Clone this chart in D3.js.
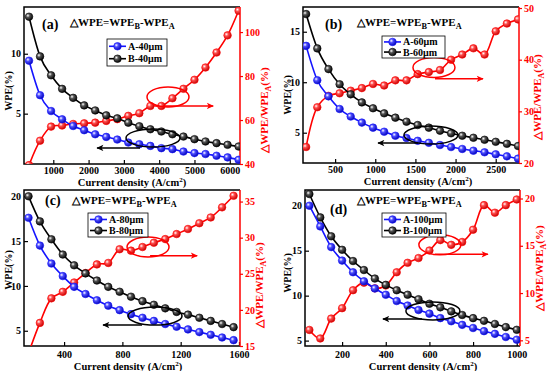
<!DOCTYPE html>
<html>
<head>
<meta charset="utf-8">
<script src="https://cdn.jsdelivr.net/npm/d3@7"></script>
<style>
  body { margin: 0; background: #fff; }
  text { font-family: 'Liberation Serif', 'Times New Roman', serif; font-weight: bold; }
</style>
</head>
<body>
<svg id="chart" width="550" height="371"></svg>
<script>
// current density (A/cm2) for each mesa size
const x40 = [312.5, 625, 937.5, 1250, 1562.5, 1875, 2187.5, 2500, 2812.5, 3125, 3437.5, 3750, 4062.5, 4375, 4687.5, 5000, 5312.5, 5625, 5937.5, 6250];
const x60 = [139, 278, 417, 556, 694, 833, 972, 1111, 1250, 1389, 1528, 1667, 1806, 1944, 2083, 2222, 2361, 2500, 2639, 2778];
const x80 = [156, 234, 313, 391, 469, 547, 625, 703, 781, 859, 938, 1016, 1094, 1172, 1250, 1328, 1406, 1484, 1563];
const x100 = [50, 100, 150, 200, 250, 300, 350, 400, 450, 500, 550, 600, 650, 700, 750, 800, 850, 900, 950, 1000];

// WPE (%) of structure A and B, and relative gain (%)
const wpeA40 = [9.42, 6.54, 5.22, 4.53, 3.97, 3.62, 3.28, 3.06, 2.84, 2.59, 2.45, 2.31, 2.12, 2.04, 1.84, 1.71, 1.63, 1.49, 1.35, 1.15];
const wpeB40 = [13.09, 9.78, 8.2, 7.07, 6.32, 5.69, 5.27, 4.86, 4.61, 4.25, 3.95, 3.7, 3.51, 3.28, 3.09, 2.87, 2.68, 2.54, 2.4, 2.26];
const gain40 = [39.5, 50.6, 57.0, 57.5, 58.2, 58.5, 58.8, 59.6, 60.4, 61.9, 63.1, 66.4, 66.4, 69.9, 74.2, 78.3, 83.9, 90.7, 98.5, 109.7];

const wpeA60 = [13.6, 10.2, 8.6, 7.35, 6.6, 6.0, 5.5, 5.1, 4.7, 4.47, 4.2, 4.0, 3.78, 3.58, 3.39, 3.22, 3.06, 2.86, 2.66, 2.43];
const wpeB60 = [16.75, 13.35, 11.3, 9.8, 8.8, 8.0, 7.42, 6.92, 6.49, 6.09, 5.76, 5.5, 5.2, 4.94, 4.7, 4.5, 4.3, 4.1, 3.9, 3.68];
const gain60 = [23.1, 30.8, 33.0, 33.5, 34.0, 34.5, 35.3, 35.0, 36.0, 36.0, 37.2, 37.6, 38.0, 40.0, 41.0, 42.2, 41.0, 45.5, 47.0, 47.8];

const wpeA80 = [17.6, 14.5, 12.5, 11.1, 9.9, 9.1, 8.4, 7.8, 7.3, 6.85, 6.45, 6.1, 5.75, 5.45, 5.15, 4.85, 4.55, 4.25, 3.95];
const wpeB80 = [20.0, 17.2, 15.2, 13.5, 12.3, 11.4, 10.6, 9.9, 9.35, 8.8, 8.3, 7.9, 7.5, 7.1, 6.8, 6.45, 6.1, 5.75, 5.4];
const gain80 = [14.0, 18.2, 21.6, 22.5, 23.8, 25.1, 26.3, 26.5, 28.4, 28.2, 28.7, 29.3, 29.8, 30.5, 31.2, 32.0, 32.8, 34.2, 35.8];

const wpeA100 = [20.0, 17.7, 15.4, 13.9, 12.6, 11.6, 10.8, 10.1, 9.4, 8.9, 8.4, 8.0, 7.5, 7.15, 6.75, 6.4, 6.05, 5.75, 5.4, 5.1];
const wpeB100 = [21.3, 18.7, 16.6, 15.1, 13.85, 12.85, 11.9, 11.2, 10.6, 10.1, 9.6, 9.1, 8.7, 8.25, 7.85, 7.5, 7.2, 6.85, 6.5, 6.2];
const gain100 = [6.1, 5.2, 7.3, 8.4, 10.3, 11.1, 10.5, 10.8, 12.2, 13.2, 13.7, 14.5, 15.6, 15.1, 15.4, 16.7, 19.3, 18.5, 19.3, 19.9];

// tick values
const xTicks40 = [1000, 2000, 3000, 4000, 5000, 6000];
const xTicks60 = [500, 1000, 1500, 2000, 2500];
const xTicks80 = [400, 800, 1200, 1600];
const xTicks100 = [200, 400, 600, 800, 1000];

const panels = [
  { tag: '(a)', size: '40μm', x: x40, a: wpeA40, b: wpeB40, g: gain40,
    box: [24, 240, 7, 164], xDom: [170, 6290], yDom: [0.8, 13.9], gDom: [40, 111.4],
    xTicks: xTicks40, yTicks: [5, 10], gTicks: [40, 60, 80, 100], xPad: 3,
    tagPos: [42, 29], titlePos: [70, 26], legend: [107, 39, 60, 27],
    redEll: [4250, 70.5], redArr: [4110, 5530, 66.4], blkEll: [3825, 2.97], blkArr: [3457, 2240, 2.14],
    yLab: [8, 91], gLab: [264, 110], xLab: [132, 186] },
  { tag: '(b)', size: '60μm', x: x60, a: wpeA60, b: wpeB60, g: gain60,
    box: [303, 519, 7, 163], xDom: [100, 2790], yDom: [2.0, 17.45], gDom: [20, 50.2],
    xTicks: xTicks60, yTicks: [5, 10, 15], gTicks: [20, 30, 40, 50], xPad: 3,
    tagPos: [325, 29], titlePos: [357, 26], legend: [382, 36, 63, 22],
    redEll: [1731, 38.5], redArr: [1744, 2342, 36.3], blkEll: [1694, 4.77], blkArr: [1532, 1034, 3.98],
    yLab: [287, 95], gLab: [537, 97], xLab: [418, 185] },
  { tag: '(c)', size: '80μm', x: x80, a: wpeA80, b: wpeB80, g: gain80,
    box: [24, 240, 190, 346], xDom: [125, 1607], yDom: [3.3, 20.7], gDom: [15, 36.6],
    xTicks: xTicks80, yTicks: [5, 10, 15, 20], gTicks: [15, 20, 25, 30, 35], xPad: 5,
    tagPos: [45, 205], titlePos: [72, 204], legend: [88, 213, 60, 24],
    redEll: [976, 28.7], redArr: [990, 1313, 27.5], blkEll: [1024, 6.64], blkArr: [935, 667, 5.64],
    yLab: [8, 270], gLab: [259, 285], xLab: [128, 370] },
  { tag: '(d)', size: '100μm', x: x100, a: wpeA100, b: wpeB100, g: gain100,
    box: [305, 520, 190, 346], xDom: [30, 1015], yDom: [4.4, 21.75], gDom: [4.4, 20.9],
    xTicks: xTicks100, yTicks: [5, 10, 15, 20], gTicks: [5, 10, 15, 20], xPad: 5,
    tagPos: [330, 214], titlePos: [357, 204], legend: [382, 213, 64, 24],
    redEll: [648, 15.1], redArr: [625, 868, 14.1], blkEll: [616, 8.3], blkArr: [566, 387, 7.4],
    yLab: [287, 273], gLab: [539, 268], xLab: [423, 370] }
];

const BLUE = '#1414ff', BLACK = '#000', RED = '#ff0000';

const svg = d3.select('#chart');
const defs = svg.append('defs');

function ballGradient(id, base, dark) {
  const g = defs.append('radialGradient').attr('id', id)
    .attr('cx', '35%').attr('cy', '35%').attr('r', '70%');
  g.append('stop').attr('offset', '0%').attr('stop-color', '#fff');
  g.append('stop').attr('offset', '35%').attr('stop-color', base);
  g.append('stop').attr('offset', '100%').attr('stop-color', dark);
}
ballGradient('ballBlue', '#4d4dff', '#0000b0');
ballGradient('ballBlack', '#555', '#000');
ballGradient('ballRed', '#ff4d4d', '#c00000');

function arrowHead(id, color) {
  defs.append('marker').attr('id', id).attr('viewBox', '0 0 10 10')
    .attr('refX', 9).attr('refY', 5).attr('markerWidth', 9).attr('markerHeight', 7)
    .attr('markerUnits', 'userSpaceOnUse').attr('orient', 'auto')
    .append('path').attr('d', 'M0,0.5 L10,5 L0,9.5 L2.5,5 Z').attr('fill', color);
}
arrowHead('headRed', RED);
arrowHead('headBlack', BLACK);

function wpeTitle(sel, x, y, size) {
  const t = sel.append('text').attr('x', x).attr('y', y).attr('font-size', size);
  t.append('tspan').text('△WPE=WPE');
  t.append('tspan').text('B').attr('font-size', size * 0.75).attr('dy', 3);
  t.append('tspan').text('-WPE').attr('dy', -3);
  t.append('tspan').text('A').attr('font-size', size * 0.75).attr('dy', 3);
}

panels.forEach((p, i) => {
  const [L, R, T, B] = p.box;
  const g = svg.append('g');
  const x = d3.scaleLinear().domain(p.xDom).range([L, R]);
  const y = d3.scaleLinear().domain(p.yDom).range([B, T]);
  const yg = d3.scaleLinear().domain(p.gDom).range([B, T]);

  const clipId = 'clip' + i;
  defs.append('clipPath').attr('id', clipId)
    .append('rect').attr('x', L).attr('y', T).attr('width', R - L).attr('height', B - T);

  // axes
  const xAxis = g.append('g').attr('transform', `translate(0,${B})`)
    .call(d3.axisBottom(x).tickValues(p.xTicks).tickSize(-4).tickPadding(p.xPad).tickFormat(d3.format('d')));
  const yAxis = g.append('g').attr('transform', `translate(${L},0)`)
    .call(d3.axisLeft(y).tickValues(p.yTicks).tickSize(-4).tickPadding(3).tickFormat(d3.format('d')));
  const gAxis = g.append('g').attr('transform', `translate(${R},0)`)
    .call(d3.axisRight(yg).tickValues(p.gTicks).tickSize(3).tickPadding(2).tickFormat(d3.format('d')));
  [xAxis, yAxis, gAxis].forEach(a => {
    a.select('.domain').remove();
    a.selectAll('text').attr('font-size', 10).attr('font-family', null).attr('font-weight', 'bold');
    a.selectAll('line').attr('stroke-width', 1.2);
  });
  xAxis.selectAll('text').attr('fill', '#000');
  yAxis.selectAll('text').attr('fill', '#000');
  gAxis.selectAll('text').attr('fill', RED);
  gAxis.selectAll('line').attr('stroke', RED);

  // frame
  g.append('path').attr('d', `M${R},${T} L${L},${T} L${L},${B} L${R},${B}`)
    .attr('fill', 'none').attr('stroke', '#000').attr('stroke-width', 1.5);
  g.append('line').attr('x1', R).attr('x2', R).attr('y1', T).attr('y2', B)
    .attr('stroke', RED).attr('stroke-width', 1.5);

  // series
  const plot = g.append('g').attr('clip-path', `url(#${clipId})`);
  const series = [
    { v: p.g, sc: yg, color: RED, ball: 'ballRed', curve: d3.curveCatmullRom.alpha(0.5) },
    { v: p.b, sc: y, color: BLACK, ball: 'ballBlack', curve: d3.curveMonotoneX },
    { v: p.a, sc: y, color: BLUE, ball: 'ballBlue', curve: d3.curveMonotoneX }
  ];
  series.forEach(s => {
    const pts = p.x.map((xv, k) => [xv, s.v[k]]);
    plot.append('path').datum(pts)
      .attr('fill', 'none').attr('stroke', s.color).attr('stroke-width', 1.6)
      .attr('d', d3.line().curve(s.curve).x(d => x(d[0])).y(d => s.sc(d[1])));
    plot.selectAll(null).data(pts).join('circle')
      .attr('cx', d => x(d[0])).attr('cy', d => s.sc(d[1])).attr('r', 3.8)
      .attr('fill', `url(#${s.ball})`).attr('stroke', s.color).attr('stroke-width', 0.6);
  });

  // annotations: ellipses with arrows pointing to the axis they refer to
  g.append('ellipse').attr('cx', x(p.redEll[0])).attr('cy', yg(p.redEll[1]))
    .attr('rx', 21).attr('ry', 10).attr('fill', 'none').attr('stroke', RED).attr('stroke-width', 1.5);
  g.append('line').attr('x1', x(p.redArr[0])).attr('x2', x(p.redArr[1]))
    .attr('y1', yg(p.redArr[2])).attr('y2', yg(p.redArr[2]))
    .attr('stroke', RED).attr('stroke-width', 1.5).attr('marker-end', 'url(#headRed)');
  g.append('ellipse').attr('cx', x(p.blkEll[0])).attr('cy', y(p.blkEll[1]))
    .attr('rx', 27).attr('ry', 9).attr('fill', 'none').attr('stroke', BLACK).attr('stroke-width', 1.5);
  g.append('line').attr('x1', x(p.blkArr[0])).attr('x2', x(p.blkArr[1]))
    .attr('y1', y(p.blkArr[2])).attr('y2', y(p.blkArr[2]))
    .attr('stroke', BLACK).attr('stroke-width', 1.5).attr('marker-end', 'url(#headBlack)');

  // panel tag and formula
  g.append('text').attr('x', p.tagPos[0]).attr('y', p.tagPos[1]).attr('font-size', 14).text(p.tag);
  wpeTitle(g, p.titlePos[0], p.titlePos[1], 11);

  // legend
  const [lx, ly, lw, lh] = p.legend;
  const lg = g.append('g');
  lg.append('rect').attr('x', lx).attr('y', ly).attr('width', lw).attr('height', lh)
    .attr('fill', '#fff').attr('stroke', '#000').attr('stroke-width', 0.8);
  [['A-' + p.size, BLUE, 'ballBlue'], ['B-' + p.size, BLACK, 'ballBlack']].forEach((e, k) => {
    const cy = ly + lh * (k === 0 ? 0.27 : 0.73);
    lg.append('line').attr('x1', lx + 2).attr('x2', lx + 19).attr('y1', cy).attr('y2', cy)
      .attr('stroke', e[1]).attr('stroke-width', 1.6);
    lg.append('circle').attr('cx', lx + 10.5).attr('cy', cy).attr('r', 3.8)
      .attr('fill', `url(#${e[2]})`).attr('stroke', e[1]).attr('stroke-width', 0.6);
    lg.append('text').attr('x', lx + 21).attr('y', cy + 3.5).attr('font-size', 10).text(e[0]);
  });

  // axis titles
  g.append('text').attr('transform', `translate(${p.yLab[0]},${p.yLab[1]}) rotate(-90)`)
    .attr('text-anchor', 'middle').attr('dy', '0.35em').attr('font-size', 10).text('WPE(%)');
  const gt = g.append('text').attr('transform', `translate(${p.gLab[0]},${p.gLab[1]}) rotate(-90)`)
    .attr('text-anchor', 'middle').attr('dy', '0.35em').attr('font-size', 11).attr('fill', RED);
  gt.append('tspan').text('△WPE/WPE');
  gt.append('tspan').text('A').attr('font-size', 8).attr('dy', 3);
  gt.append('tspan').text('(%)').attr('dy', -3);
  const xt = g.append('text').attr('x', p.xLab[0]).attr('y', p.xLab[1])
    .attr('text-anchor', 'middle').attr('font-size', 10.5);
  xt.append('tspan').text('Current density (A/cm');
  xt.append('tspan').text('2').attr('font-size', 7).attr('dy', -4);
  xt.append('tspan').text(')').attr('dy', 4);
});
</script>
</body>
</html>
